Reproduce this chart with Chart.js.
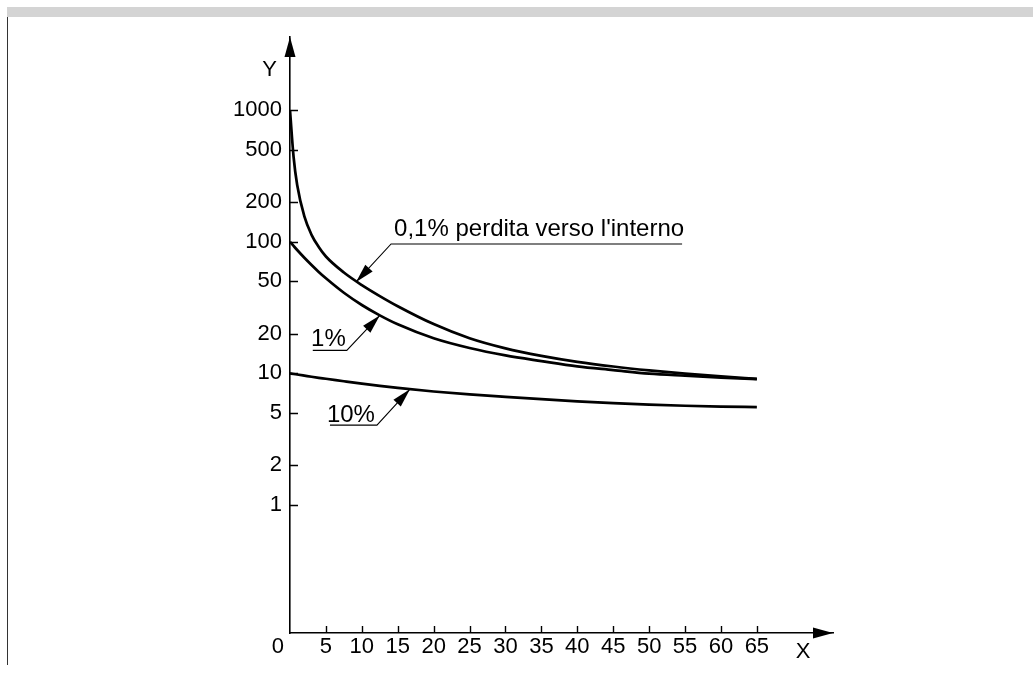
<!DOCTYPE html>
<html>
<head>
<meta charset="utf-8">
<script src="https://cdn.jsdelivr.net/npm/chart.js@4.4.1/dist/chart.umd.min.js"></script>
<style>
  html, body { margin: 0; padding: 0; background: #fff; }
  #wrap { position: relative; width: 1033px; height: 674px; overflow: hidden; }
  #topbar { position: absolute; left: 7px; top: 7px; width: 1026px; height: 10px; background: #d4d4d4; }
  #leftrule { position: absolute; left: 7px; top: 17px; width: 1px; height: 648px; background: #333; }
  canvas { position: absolute; left: 0; top: 0; }
</style>
</head>
<body>
<div id="wrap">
  <div id="topbar"></div>
  <div id="leftrule"></div>
  <canvas id="chart" width="1033" height="674"></canvas>
</div>
<script>
// ---- Data ----

const xValues = [0, 0.5, 1, 2, 3, 4, 5, 7.5, 10, 12.5, 15, 20, 25, 30, 35, 40, 45, 50, 55, 60, 65];
const leak01 = [1000, 441, 270, 156, 113, 91.3, 77.3, 58.4, 46.9, 38.7, 32.4, 23.7, 18.5, 15.5, 13.6, 12.25, 11.28, 10.54, 9.96, 9.49, 9.08];
const leak1 = [100, 93, 86.6, 75.6, 66.6, 59, 52.8, 41, 33.1, 27.6, 23.6, 18.5, 15.6, 13.7, 12.4, 11.3, 10.6, 9.95, 9.6, 9.3, 9.05];
const leak10 = [10, 9.9, 9.81, 9.62, 9.43, 9.26, 9.11, 8.72, 8.36, 8.05, 7.76, 7.29, 6.92, 6.63, 6.37, 6.14, 5.95, 5.8, 5.68, 5.6, 5.55];

const xTicks = [0, 5, 10, 15, 20, 25, 30, 35, 40, 45, 50, 55, 60, 65];
const yTicks = [1, 2, 5, 10, 20, 50, 100, 200, 500, 1000];

const calloutText = ["0,1% perdita verso l'interno", '1%', '10%'];
const calloutTipX = [9.2, 12.5, 16.7];
const calloutTipY = [49.5, 27.6, 7.59];

// ---- Helpers ----

function toPoints(ys) {
  return xValues.map((x, i) => ({ x: x, y: ys[i] }));
}

function arrowHead(ctx, fromX, fromY, tipX, tipY, len, half) {
  const a = Math.atan2(tipY - fromY, tipX - fromX);
  const bx = tipX - len * Math.cos(a);
  const by = tipY - len * Math.sin(a);
  ctx.beginPath();
  ctx.moveTo(tipX, tipY);
  ctx.lineTo(bx + half * Math.sin(a), by - half * Math.cos(a));
  ctx.lineTo(bx - half * Math.sin(a), by + half * Math.cos(a));
  ctx.closePath();
  ctx.fill();
}

// ---- Plugins ----

// inward tick marks, axis arrows, axis names
const axisDecor = {
  id: 'axisDecor',
  afterDraw(chart) {
    const { ctx, chartArea: a, scales: { x, y } } = chart;
    ctx.save();
    ctx.strokeStyle = '#000';
    ctx.fillStyle = '#000';
    ctx.lineWidth = 1.4;
    ctx.beginPath();
    xTicks.forEach(v => {
      if (v === 0) return;
      const px = Math.round(x.getPixelForValue(v)) + 0.5;
      ctx.moveTo(px, a.bottom);
      ctx.lineTo(px, a.bottom - 7);
    });
    yTicks.forEach(v => {
      const py = Math.round(y.getPixelForValue(v)) + 0.5;
      ctx.moveTo(a.left, py);
      ctx.lineTo(a.left + 8, py);
    });
    ctx.stroke();

    arrowHead(ctx, a.left, a.top + 30, a.left, a.top, 20, 5.5);
    arrowHead(ctx, a.right - 30, a.bottom, a.right, a.bottom, 20, 5.5);

    ctx.font = '22px "Liberation Sans", Arial, sans-serif';
    ctx.textBaseline = 'middle';
    ctx.textAlign = 'right';
    ctx.fillText('Y', a.left - 13, a.top + 33);
    ctx.textAlign = 'center';
    ctx.fillText('X', a.right - 30, a.bottom + 19);
    ctx.restore();
  }
};

// leader lines with labels
const callouts = {
  id: 'callouts',
  afterDatasetsDraw(chart) {
    const { ctx, scales: { x, y } } = chart;
    const layout = [
      { dx: 35, dy: -38, side: 'right', line: 291, tx: 3, ty: -8 },
      { dx: -33, dy: 35, side: 'left', line: 34, tx: -1, ty: -4 },
      { dx: -33, dy: 36, side: 'left', line: 47, tx: -2, ty: -3 }
    ];
    ctx.save();
    ctx.strokeStyle = '#000';
    ctx.fillStyle = '#000';
    ctx.lineWidth = 1.1;
    ctx.font = '24px "Liberation Sans", Arial, sans-serif';
    ctx.textBaseline = 'alphabetic';
    calloutText.forEach((txt, i) => {
      const L = layout[i];
      const tipX = x.getPixelForValue(calloutTipX[i]);
      const tipY = y.getPixelForValue(calloutTipY[i]);
      const kx = tipX + L.dx, ky = tipY + L.dy;
      const endX = L.side === 'right' ? kx + L.line : kx - L.line;
      ctx.beginPath();
      ctx.moveTo(tipX, tipY);
      ctx.lineTo(kx, ky);
      ctx.lineTo(endX, ky);
      ctx.stroke();
      arrowHead(ctx, kx, ky, tipX, tipY, 19, 5);
      ctx.textAlign = L.side === 'right' ? 'left' : 'right';
      ctx.fillText(txt, kx + L.tx, ky + L.ty);
    });
    ctx.restore();
  }
};

// ---- Chart ----

Chart.defaults.font.family = '"Liberation Sans", Arial, sans-serif';
Chart.defaults.font.size = 22;
Chart.defaults.color = '#000';

const lineStyle = {
  borderColor: '#000',
  borderWidth: 2.7,
  pointRadius: 0,
  fill: false,
  cubicInterpolationMode: 'monotone'
};

new Chart(document.getElementById('chart'), {
  type: 'line',
  data: {
    datasets: [
      Object.assign({ label: calloutText[0], data: toPoints(leak01) }, lineStyle),
      Object.assign({ label: calloutText[1], data: toPoints(leak1) }, lineStyle),
      Object.assign({ label: calloutText[2], data: toPoints(leak10) }, lineStyle)
    ]
  },
  options: {
    responsive: false,
    animation: false,
    devicePixelRatio: 1,
    layout: { padding: { left: 0, right: 200, top: 37, bottom: 0 } },
    plugins: { legend: { display: false }, tooltip: { enabled: false } },
    scales: {
      x: {
        type: 'linear',
        min: 0,
        max: 75.6,
        grid: { display: false, drawTicks: false },
        border: { display: true, color: '#000', width: 1.6 },
        afterBuildTicks: s => { s.ticks = xTicks.map(v => ({ value: v })); },
        afterFit: s => { s.height = 41; },
        ticks: {
          padding: 1,
          maxRotation: 0,
          autoSkip: false,
          callback: v => v === 0 ? '0    ' : String(v)
        }
      },
      y: {
        type: 'logarithmic',
        min: 0.1065,
        max: 3600,
        grid: { display: false, drawTicks: false },
        border: { display: true, color: '#000', width: 1.6 },
        afterBuildTicks: s => { s.ticks = yTicks.map(v => ({ value: v })); },
        afterFit: s => { s.width = 290; },
        ticks: {
          padding: 8,
          autoSkip: false,
          callback: v => String(v)
        }
      }
    }
  },
  plugins: [axisDecor, callouts]
});
</script>
</body>
</html>
